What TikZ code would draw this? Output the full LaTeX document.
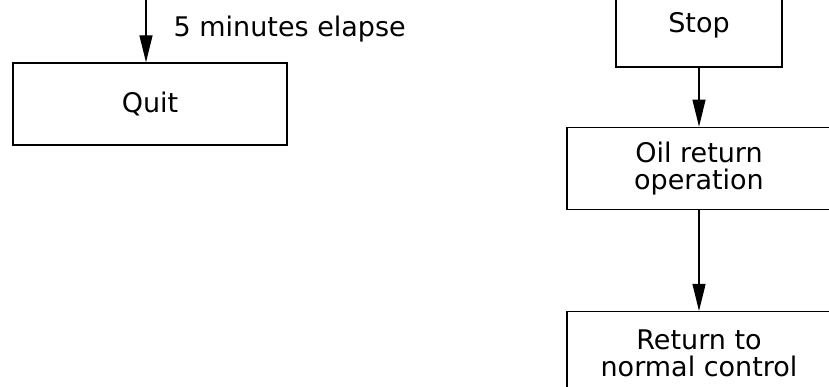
\documentclass[tikz,border=0pt]{standalone}
\usepackage{fontspec}
\setmainfont{DejaVu Sans}
\usetikzlibrary{positioning, arrows.meta}

\begin{document}
\begin{tikzpicture}[->, >={Triangle[length=27pt, width=13pt]}, x=1pt, y=1pt,
    line width=1.3pt, node distance=59pt,
    txt/.style={font=\fontsize{27}{27}\selectfont},
    box/.style={draw, rectangle, align=center, inner sep=0pt, txt}]
  \useasboundingbox (0,0) rectangle (829,387);
  % left branch
  \coordinate (top) at (146,392);
  \node[box, minimum width=274pt, minimum height=82pt] (quit) at (150,283) {Quit};
  \node[txt, anchor=base west, inner sep=0pt] (elapse) at (173,350) {5 minutes elapse};
  \draw (top) -- (top |- quit.north);
  % right branch
  \node[box, minimum width=166pt, minimum height=84pt] (stop) at (699,362) {Stop};
  \node[box, below=of stop, minimum width=264pt, minimum height=82pt] (oil) {Oil return\\operation};
  \node[box, below=101pt of oil, minimum width=264pt, minimum height=84pt] (ret) {Return to\\normal control};
  \draw (stop) -- (oil);
  \draw (oil) -- (ret);
\end{tikzpicture}
\end{document}
